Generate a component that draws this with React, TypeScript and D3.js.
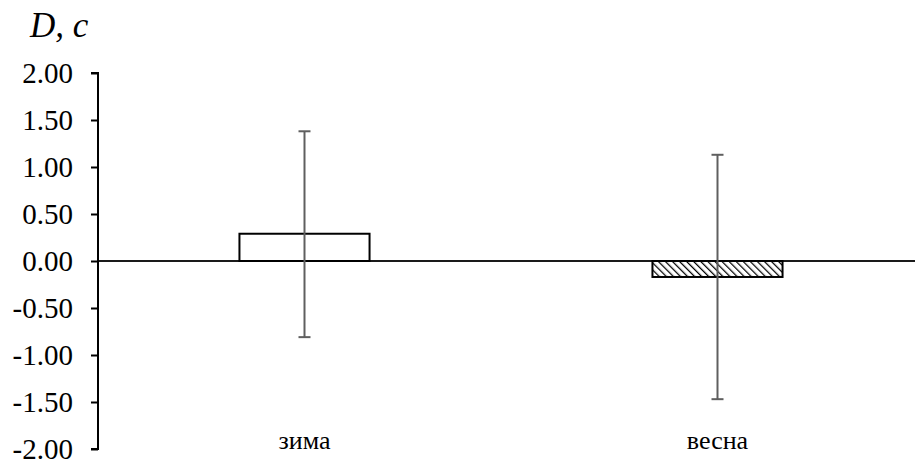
import React, { useRef, useEffect } from "react";
import * as d3 from "d3";

// Data
const categories = ["зима", "весна"];
const barValues = [0.29, -0.17];
const errorUpper = [1.38, 1.13];
const errorLower = [-0.81, -1.47];
const yTicks = [2, 1.5, 1, 0.5, 0, -0.5, -1, -1.5, -2];
const yTitle = "D, c";

const BarChart = () => {
  const svgRef = useRef<SVGSVGElement | null>(null);

  useEffect(() => {
    const dimensions = { width: 915, height: 459 };
    const plot = { left: 98, right: 924, top: 73, bottom: 449 };

    const svg = d3
      .select(svgRef.current)
      .attr("width", dimensions.width)
      .attr("height", dimensions.height);

    svg.selectAll("*").remove();

    // hatch pattern for negative bar
    const defs = svg.append("defs");
    const pattern = defs
      .append("pattern")
      .attr("id", "hatch")
      .attr("patternUnits", "userSpaceOnUse")
      .attr("width", 5)
      .attr("height", 5)
      .attr("patternTransform", "rotate(-45)");
    pattern.append("rect").attr("width", 5).attr("height", 5).attr("fill", "#fff");
    pattern
      .append("line")
      .attr("x1", 0)
      .attr("y1", 0)
      .attr("x2", 0)
      .attr("y2", 5)
      .attr("stroke", "#000")
      .attr("stroke-width", 2.5);

    // Scales
    const yScale = d3.scaleLinear().domain([-2, 2]).range([plot.bottom, plot.top]);
    const xScale = d3
      .scalePoint<string>()
      .domain(categories)
      .range([plot.left, plot.right])
      .padding(0.5);
    const barWidth = xScale.step() * 0.315;

    const font = "'Liberation Serif', 'Times New Roman', serif";

    // Zero line
    svg
      .append("line")
      .attr("x1", plot.left)
      .attr("x2", dimensions.width)
      .attr("y1", yScale(0))
      .attr("y2", yScale(0))
      .attr("stroke", "#1a1a1a")
      .attr("stroke-width", 1.8);

    // Bars
    svg
      .selectAll(".bar")
      .data(categories)
      .join("rect")
      .classed("bar", true)
      .attr("x", (d) => (xScale(d) as number) - barWidth / 2)
      .attr("y", (d, i) => yScale(Math.max(0, barValues[i])))
      .attr("width", barWidth)
      .attr("height", (d, i) => Math.abs(yScale(barValues[i]) - yScale(0)))
      .attr("fill", (d, i) => (barValues[i] < 0 ? "url(#hatch)" : "#fff"))
      .attr("stroke", "#000")
      .attr("stroke-width", 2);

    // Error bars
    const err = svg.append("g").attr("stroke", "#5f5f5f").attr("stroke-width", 2);
    categories.forEach((c, i) => {
      const cx = xScale(c) as number;
      err
        .append("line")
        .attr("x1", cx)
        .attr("x2", cx)
        .attr("y1", yScale(errorUpper[i]))
        .attr("y2", yScale(errorLower[i]));
      [errorUpper[i], errorLower[i]].forEach((v) => {
        err
          .append("line")
          .attr("x1", cx - 6)
          .attr("x2", cx + 6)
          .attr("y1", yScale(v))
          .attr("y2", yScale(v));
      });
    });

    // Y axis
    const yAxis = d3
      .axisLeft(yScale)
      .tickValues(yTicks)
      .tickSize(7)
      .tickPadding(18)
      .tickFormat((d) => (d as number).toFixed(2));

    const yG = svg
      .append("g")
      .attr("transform", `translate(${plot.left},0)`)
      .call(yAxis)
      .attr("font-family", font)
      .attr("font-size", 29);
    yG.select(".domain").attr("stroke", "#000").attr("stroke-width", 2).attr("d", `M-7,${plot.top}H0V${plot.bottom}H-7`);
    yG.selectAll(".tick line").attr("stroke", "#000").attr("stroke-width", 2);
    yG.selectAll(".tick text").attr("fill", "#000");

    // Category labels
    svg
      .selectAll(".cat")
      .data(categories)
      .join("text")
      .classed("cat", true)
      .attr("x", (d) => xScale(d) as number)
      .attr("y", 449)
      .attr("text-anchor", "middle")
      .attr("font-family", font)
      .attr("font-size", 26)
      .text((d) => d);

    // Y title
    svg
      .append("text")
      .attr("x", 30)
      .attr("y", 37)
      .attr("font-family", font)
      .attr("font-style", "italic")
      .attr("font-size", 35)
      .text(yTitle);
  }, []);

  return <svg ref={svgRef} style={{ position: "absolute", left: 0, top: 0 }} />;
};

const App = () => {
  return <BarChart />;
};

export default App;
